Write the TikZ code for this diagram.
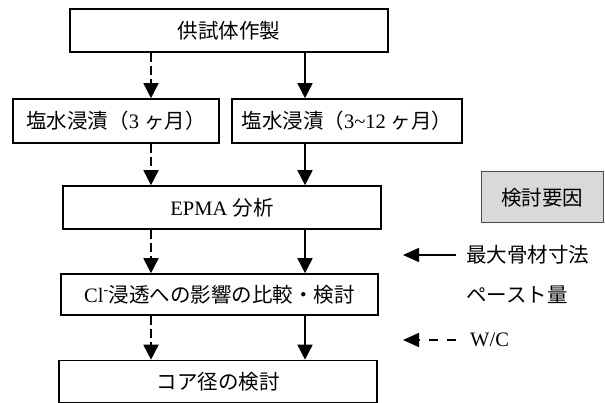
\documentclass[tikz,border=0pt]{standalone}
\usepackage{fontspec}
\setmainfont{Liberation Serif}
\newfontfamily\jp{Noto Sans CJK JP}
\usetikzlibrary{arrows.meta}
\begin{document}
\begin{tikzpicture}[x=1pt,y=-1pt,
  box/.style={draw, line width=1.6pt, inner sep=0pt, font=\fontsize{20.5}{24}\selectfont},
  keybox/.style={draw=black!70, line width=1pt, fill=black!15, inner sep=0pt, font=\fontsize{20.5}{24}\selectfont},
  lbl/.style={anchor=west, inner sep=0pt, font=\fontsize{20.5}{24}\selectfont},
  solidarrow/.style={line width=1.6pt, -{Triangle[width=15pt,length=15pt]}},
  dasharrow/.style={line width=1.6pt, dash pattern=on 9pt off 4pt, -{Triangle[width=15pt,length=15pt]}},
  legsolid/.style={line width=1.6pt, -{Triangle[width=14pt,length=16pt]}},
  legdash/.style={line width=1.6pt, dash pattern=on 9pt off 9.5pt, -{Triangle[width=14pt,length=16pt]}}]
\useasboundingbox (0,0) rectangle (605,403);
\coordinate (colL) at (151,0);
\coordinate (colR) at (305,0);
\node[box, minimum width=318pt, minimum height=43pt] (top) at (229,30.5) {\jp 供試体作製};
\node[box, minimum width=206pt, minimum height=44pt] (imm3) at (116,121) {{\jp 塩水浸漬（}3 {\jp ヶ月）}};
\node[box, minimum width=230pt, minimum height=44pt] (imm12) at (347,121) {{\jp 塩水浸漬（}3\textasciitilde12 {\jp ヶ月）}};
\node[box, minimum width=318pt, minimum height=43pt] (epma) at (222,207.5) {EPMA {\jp 分析}};
\node[box, minimum width=317pt, minimum height=41pt] (cl) at (219.5,294.5) {Cl\textsuperscript{-}{\jp 浸透への影響の比較・検討}};
\node[box, minimum width=318pt, minimum height=42pt] (core) at (218,381.5) {\jp コア径の検討};
\node[keybox, minimum width=122pt, minimum height=51pt] (key) at (542,197.5) {\jp 検討要因};
\node[lbl] (l1) at (466,255) {\jp 最大骨材寸法};
\node[lbl] (l2) at (466,295) {\jp ペースト量};
\node[lbl] (l3) at (470,340) {W/C};
\coordinate (s1a) at (456,255);
\coordinate (s1b) at (403,255);
\coordinate (d1a) at (456,340);
\coordinate (d1b) at (403,340);
\draw[dasharrow] (top.south -| colL) -- (imm3.north -| colL);
\draw[solidarrow] (top.south -| colR) -- (imm12.north -| colR);
\draw[dasharrow] (imm3.south -| colL) -- (epma.north -| colL);
\draw[solidarrow] (imm12.south -| colR) -- (epma.north -| colR);
\draw[dasharrow] (epma.south -| colL) -- (cl.north -| colL);
\draw[solidarrow] (epma.south -| colR) -- (cl.north -| colR);
\draw[dasharrow] (cl.south -| colL) -- (core.north -| colL);
\draw[solidarrow] (cl.south -| colR) -- (core.north -| colR);
\draw[legsolid] (s1a) -- (s1b);
\draw[legdash] (d1a) -- (d1b);
\end{tikzpicture}
\end{document}
